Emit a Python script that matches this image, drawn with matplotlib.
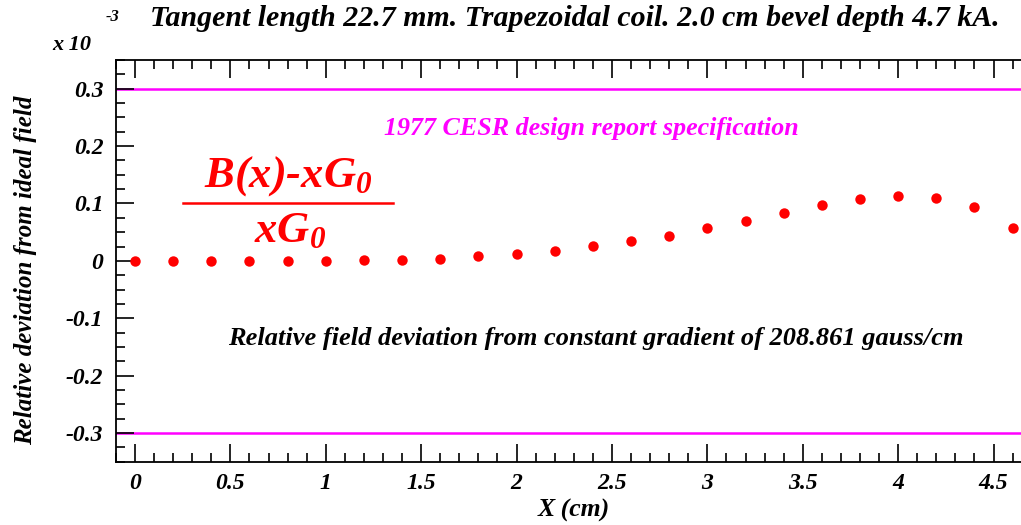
import numpy as np
import matplotlib
matplotlib.use("Agg")
import matplotlib.pyplot as plt
from matplotlib.ticker import MultipleLocator
from matplotlib.lines import Line2D

plt.rcParams['font.family'] = 'Liberation Serif'
plt.rcParams['font.weight'] = 'bold'
plt.rcParams['font.style'] = 'italic'
plt.rcParams['mathtext.fontset'] = 'custom'
plt.rcParams['mathtext.rm'] = 'Liberation Serif:bold:italic'
plt.rcParams['mathtext.it'] = 'Liberation Serif:bold:italic'
plt.rcParams['mathtext.bf'] = 'Liberation Serif:bold:italic'

# relative deviation (units of 1e-3) vs x position
x_cm = [0.0, 0.2, 0.4, 0.6, 0.8, 1.0, 1.2, 1.4, 1.6, 1.8, 2.0, 2.2,
        2.4, 2.6, 2.8, 3.0, 3.2, 3.4, 3.6, 3.8, 4.0, 4.2, 4.4, 4.6]
deviation = [0.0, 0.0, 0.0, 0.0, 0.0, 0.0005, 0.001, 0.002, 0.004, 0.008,
             0.012, 0.018, 0.026, 0.035, 0.044, 0.057, 0.070, 0.083,
             0.097, 0.108, 0.113, 0.110, 0.094, 0.057]
spec_limits = [0.3, -0.3]

fig = plt.figure(figsize=(10.21, 5.25), dpi=100)
ax = fig.add_axes([0.1135, 0.1206, 0.897, 0.7651])

for s in spec_limits:
    ax.axhline(s, color='#ff00ff', lw=1.8, zorder=1)
ax.plot(x_cm, deviation, 'o', color='#ff0000', ms=7.5, mec='none', zorder=3)

ax.set_xlim(-0.1, 4.7)
ax.set_ylim(-0.35, 0.35)
ax.xaxis.set_major_locator(MultipleLocator(0.5))
ax.xaxis.set_minor_locator(MultipleLocator(0.1))
ax.yaxis.set_major_locator(MultipleLocator(0.1))
ax.yaxis.set_minor_locator(MultipleLocator(0.025))
ax.tick_params(which='both', direction='in', top=True, right=False,
               width=1.2, colors='black')
ax.tick_params(which='major', length=13, labelsize=17)
ax.tick_params(which='minor', length=6.5)
ax.tick_params(axis='x', pad=8)
ax.tick_params(axis='y', pad=9)
ax.xaxis.set_major_formatter(lambda v, p: f"{v:g}")
ax.yaxis.set_major_formatter(lambda v, p: f"{v:g}")
for sp in ax.spines.values():
    sp.set_linewidth(1.3)
ax.spines['right'].set_visible(False)

fig.text(0.563, 0.965, "Tangent length 22.7 mm. Trapezoidal coil. 2.0 cm bevel depth 4.7 kA.",
         ha='center', va='center', fontsize=21.5)
fig.text(0.051, 0.915, "x 10", ha='left', va='center', fontsize=16)
fig.text(0.103, 0.967, "-3", ha='left', va='center', fontsize=12)
fig.text(0.025, 0.486, "Relative deviation from ideal field", rotation=90,
         ha='center', va='center', fontsize=18)
fig.text(0.562, 0.028, "X (cm)", ha='center', va='center', fontsize=18.5)

ax.text(0.519, 0.83, "1977 CESR design report specification", transform=ax.transAxes,
        ha='center', va='center', fontsize=18.7, color='#ff00ff')
ax.text(0.524, 0.307, "Relative field deviation from constant gradient of 208.861 gauss/cm",
        transform=ax.transAxes, ha='center', va='center', fontsize=19, color='black')

ax.text(0.188, 0.71, "B(x)-xG$_0$", transform=ax.transAxes,
        ha='center', va='center', fontsize=32, color='#ff0000')
ax.text(0.19, 0.575, "xG$_0$", transform=ax.transAxes,
        ha='center', va='center', fontsize=32, color='#ff0000')
ax.add_line(Line2D([0.073, 0.303], [0.643, 0.643], transform=ax.transAxes,
                   color='#ff0000', lw=1.8))

fig.savefig("out.png", dpi=100)
